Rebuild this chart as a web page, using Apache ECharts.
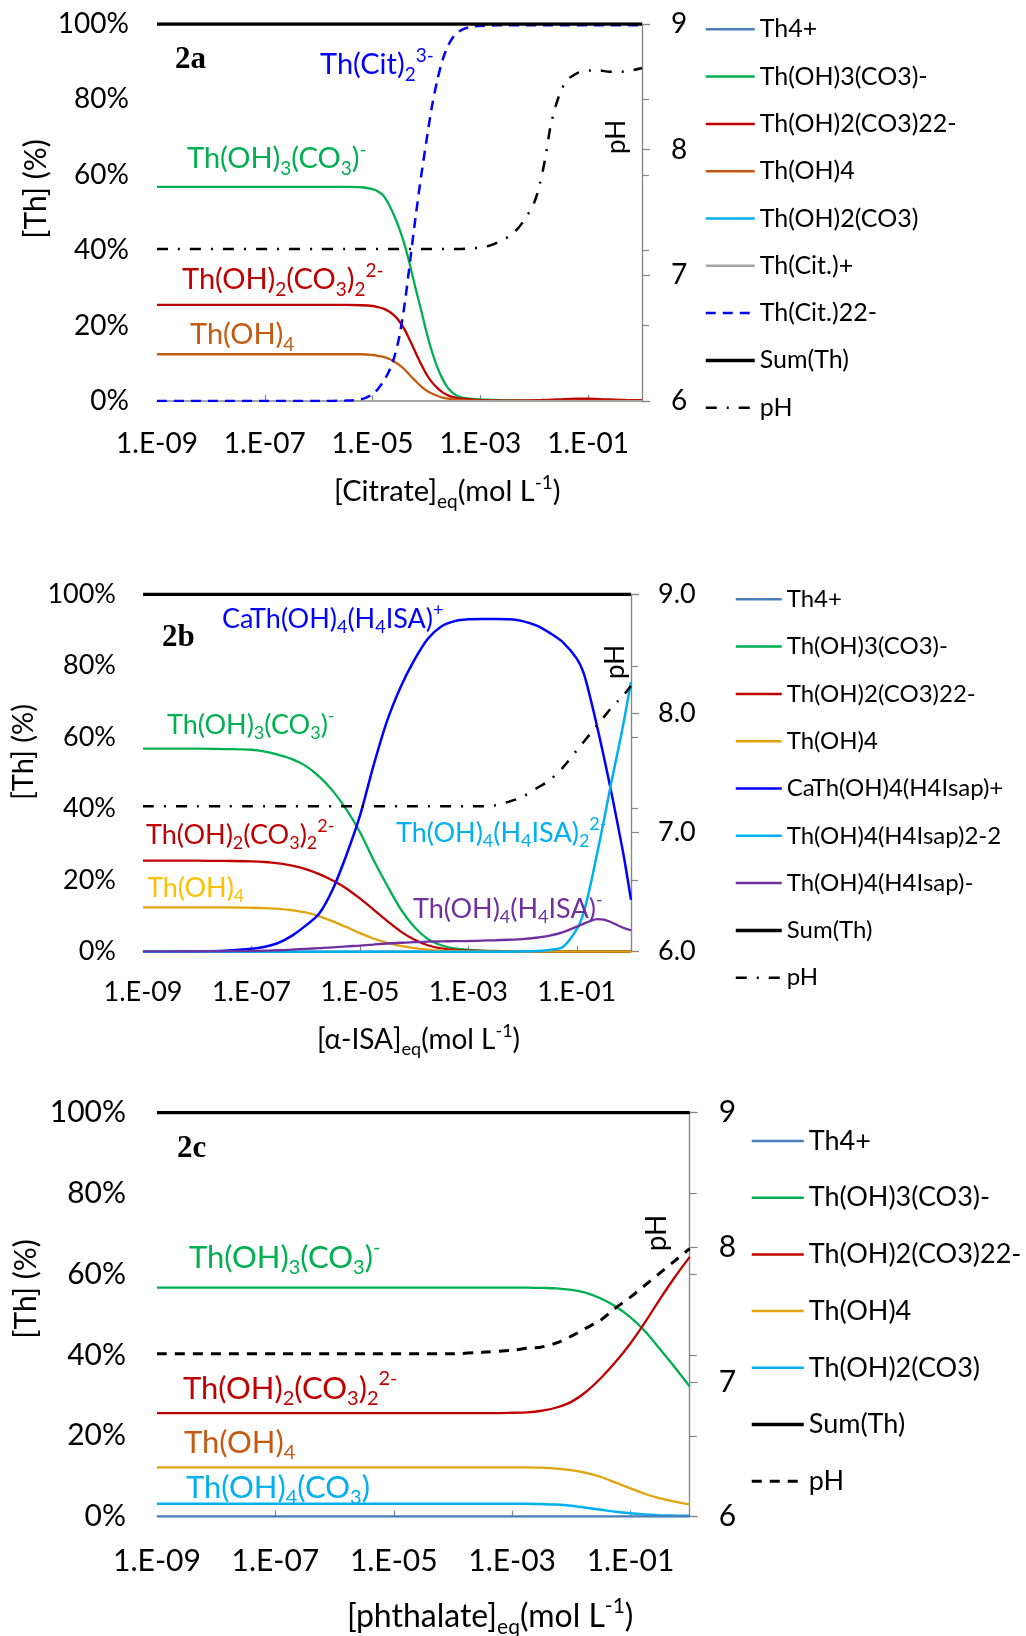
<!DOCTYPE html>
<html><head><meta charset="utf-8">
<script src="https://cdn.jsdelivr.net/npm/echarts@6/dist/echarts.min.js"></script>
<style>html,body{margin:0;padding:0;background:#fff}#c{width:1026px;height:1636px}</style>
</head><body><div id="c"></div>
<script>
// ================= DATA =================
// x values are log10 of the equilibrium ligand concentration (mol/L)
const xLabelTicks = [-9, -7, -5, -3, -1];        // 1.E-09 ... 1.E-01
const xTickMarks  = [-7, -5, -3, -1];
const xEnds = [-9, 0];

// ---- Panel 2a : citrate ----
const logC_a = [-9,-6,-5.5,-5.2,-5.0,-4.9,-4.8,-4.7,-4.6,-4.5,-4.4,-4.3,-4.2,-4.1,-4.0,-3.9,-3.8,-3.7,-3.6,-3.5,-3.4,-3.2,-3.0,-2.8,-2.6,-2.4,-2.2,-2.0,-1.9,-1.8,-1.7,-1.6,-1.5,-1.4,-1.2,-1.0,-0.8,-0.6,-0.4,-0.2,0];
const a_ThOH3CO3 = [56.8,56.8,56.8,56.7,56.2,55.6,54.5,52.2,49.2,45.6,41.2,35.7,29.8,24.2,18.3,13.2,9.0,5.8,3.4,2.0,1.2,0.6,0.4,0.3,0.2,0.2,0.1,0.1,0.1,0.1,0.1,0.1,0.1,0.1,0.1,0.1,0.1,0.1,0.1,0.1,0.1];
const a_ThOH2CO32 = [25.5,25.5,25.5,25.4,25.2,24.9,24.5,23.8,22.7,21.1,18.8,15.9,12.8,9.8,7.1,5.0,3.5,2.3,1.5,1.0,0.7,0.4,0.2,0.15,0.1,0.1,0.15,0.2,0.25,0.3,0.35,0.4,0.45,0.5,0.6,0.6,0.5,0.4,0.3,0.2,0.2];
const a_ThOH4 = [12.4,12.4,12.4,12.4,12.2,12.0,11.7,11.2,10.5,9.5,8.3,6.7,5.3,3.9,2.8,2.0,1.4,0.9,0.6,0.4,0.3,0.1,0.05,0,0,0,0,0,0,0,0,0,0,0,0,0,0,0,0,0,0];
const a_ThCit2 = [0,0,0.1,0.5,1.8,3.2,5.2,7.7,11.5,17.3,26.2,37.5,49.0,59.5,69.0,78.0,85.0,90.5,94.2,96.6,98.0,99.2,99.5,99.6,99.7,99.7,99.7,99.7,99.7,99.7,99.7,99.7,99.7,99.7,99.7,99.7,99.7,99.7,99.7,99.7,99.7];
const a_pH = [7.21,7.21,7.21,7.21,7.21,7.21,7.21,7.21,7.21,7.21,7.21,7.21,7.21,7.21,7.21,7.21,7.21,7.21,7.21,7.21,7.21,7.215,7.22,7.24,7.28,7.33,7.43,7.58,7.72,7.92,8.18,8.35,8.47,8.55,8.61,8.63,8.63,8.62,8.62,8.63,8.65];
const a_Th4 = [0, 0];
const a_ThOH2CO3 = [0, 0];
const a_ThCit = [0, 0];
const a_Sum = [100, 100];

// ---- Panel 2b : alpha-ISA ----
const logC_b = [-9,-8,-7.5,-7,-6.75,-6.5,-6.25,-6.0,-5.75,-5.5,-5.25,-5.0,-4.75,-4.5,-4.25,-4.0,-3.75,-3.5,-3.25,-3.0,-2.75,-2.5,-2.25,-2.0,-1.75,-1.5,-1.25,-1.0,-0.875,-0.75,-0.625,-0.5,-0.375,-0.25,-0.125,0];
const b_ThOH3CO3 = [56.8,56.8,56.7,56.5,56.0,55.1,53.9,52.0,49.0,45.0,39.8,33.5,25.7,18.6,12.0,7.0,3.6,1.8,0.9,0.5,0.3,0.2,0.1,0.05,0,0,0,0,0,0,0,0,0,0,0,0];
const b_ThOH2CO32 = [25.5,25.5,25.4,25.3,25.1,24.7,24.1,23.1,21.7,19.9,17.7,14.9,11.8,8.6,5.7,3.4,1.8,0.9,0.5,0.3,0.2,0.1,0.05,0,0,0,0,0,0,0,0,0,0,0,0,0];
const b_ThOH4 = [12.4,12.4,12.4,12.3,12.2,12.0,11.6,11.0,9.9,8.5,6.9,5.2,3.7,2.5,1.6,1.0,0.6,0.3,0.2,0.1,0.05,0,0,0,0,0,0,0,0,0,0,0,0,0,0,0];
const b_CaThISA = [0,0.1,0.3,0.8,1.4,2.5,4.5,7.3,10.7,17.5,27.0,38.0,52.0,64.5,74.0,81.5,87.5,91.0,92.5,93.0,93.1,93.1,93.0,92.5,91.3,89.2,86.5,82.0,78.0,71.0,63.0,54.5,45.5,36.0,26.0,14.5];
const b_ThISA2 = [0,0,0,0,0,0,0,0,0,0,0,0,0,0,0,0,0,0,0,0,0,0,0,0.1,0.2,0.5,1.4,6.3,10.8,18.5,27.5,36.7,46.5,55.5,65.0,75.5];
const b_ThISA = [0,0.05,0.1,0.2,0.3,0.4,0.6,0.8,1.0,1.2,1.5,1.7,2.0,2.3,2.5,2.7,2.8,2.9,2.95,3.0,3.1,3.2,3.35,3.5,3.9,4.5,5.5,7.0,7.8,8.6,9.1,9.0,8.3,7.4,6.6,6.0];
const b_pH = [7.22,7.22,7.22,7.22,7.22,7.22,7.22,7.22,7.22,7.22,7.22,7.22,7.22,7.22,7.22,7.22,7.22,7.22,7.22,7.22,7.22,7.23,7.26,7.30,7.37,7.44,7.55,7.69,7.76,7.83,7.90,7.97,8.04,8.10,8.16,8.23];
const b_Th4 = [0, 0];
const b_Sum = [100, 100];

// ---- Panel 2c : phthalate ----
const logC_c = [-9,-6,-4,-3.5,-3.0,-2.75,-2.5,-2.25,-2.0,-1.75,-1.5,-1.25,-1.0,-0.75,-0.5,-0.25,0];
const c_ThOH3CO3 = [56.7,56.7,56.7,56.7,56.7,56.7,56.6,56.5,56.1,55.4,54.0,52.0,49.3,45.8,41.4,36.9,32.2];
const c_ThOH2CO32 = [25.6,25.6,25.6,25.6,25.7,25.8,26.2,27.0,28.4,30.9,34.3,38.3,42.9,48.2,53.9,59.3,64.3];
const c_ThOH4 = [12.2,12.2,12.2,12.2,12.2,12.2,12.1,11.9,11.5,10.8,9.8,8.4,7.0,5.6,4.5,3.7,3.0];
const c_ThOH2CO3 = [3.2,3.2,3.2,3.2,3.2,3.15,3.1,3.0,2.7,2.2,1.7,1.2,0.8,0.5,0.35,0.25,0.2];
const c_pH = [7.21,7.21,7.21,7.22,7.235,7.25,7.26,7.29,7.34,7.40,7.46,7.55,7.63,7.72,7.81,7.90,7.99];
const c_Th4 = [0, 0];
const c_Sum = [100, 100];

// ================= STYLE / LAYOUT =================
const FONT = 'Lato';
const COL = {th4:'#4a7ebb', green:'#00b050', red:'#c00000', orange:'#c55a11', gold:'#e2a40c', goldTxt:'#ffc000',
  lblue:'#00b0f0', grey:'#a5a5a5', blue:'#0000ff', purple:'#7030a0', black:'#000000', axis:'#868686'};
const DASH_A = [11, 10, 2, 10];
const DASH_CIT = [10, 7];
const DASH_C = [10, 8];

const grids = [
  {left:157, top:24, width:485, height:377},
  {left:143, top:594.3, width:488, height:357.4},
  {left:157, top:1112.6, width:532.7, height:404}
];
const tickFont = [28, 27, 30];
const xMargin = [29, 27, 30];
const lMargin = [28, 27, 31];
const rMargin = [29, 27, 29];

const fmtExp = v => '1.E-' + String(Math.round(-v)).padStart(2, '0');

const xAxes = grids.map((g, i) => ({
  type:'value', gridIndex:i, min:-9, max:0,
  axisLine:{show:true, onZero:false, lineStyle:{color:COL.axis, width:1.2}},
  axisTick:{show:true, inside:true, length:6, customValues:xTickMarks, lineStyle:{color:COL.axis, width:1.2}},
  axisLabel:{customValues:xLabelTicks, formatter:fmtExp, fontFamily:FONT, fontSize:tickFont[i], color:'#000', margin:xMargin[i]},
  splitLine:{show:false}
}));
const yAxes = [];
grids.forEach((g, i) => {
  yAxes.push({type:'value', gridIndex:i, position:'left', min:0, max:100, interval:20,
    axisLine:{show:true, lineStyle:{color:COL.axis, width:1.2}},
    axisTick:{show:true, inside:true, length:7, lineStyle:{color:COL.axis, width:1.2}},
    axisLabel:{formatter:'{value}%', fontFamily:FONT, fontSize:tickFont[i], color:'#000', margin:lMargin[i]},
    splitLine:{show:false}});
  yAxes.push({type:'value', gridIndex:i, position:'right', min:6, max:9, interval:1,
    axisLine:{show:true, lineStyle:{color:COL.axis, width:1.2}},
    axisTick:{show:true, inside:false, length:8, lineStyle:{color:COL.axis, width:1.2}},
    axisLabel:{formatter: i === 1 ? (v => v.toFixed(1)) : (v => String(v)), fontFamily:FONT, fontSize:tickFont[i], color:'#000', margin:rMargin[i]},
    splitLine:{show:false}});
});

const series = [];
function add(gi, right, name, xs, ys, color, width, type) {
  series.push({type:'line', name, xAxisIndex:gi, yAxisIndex:gi*2 + (right ? 1 : 0),
    data: xs.map((x, k) => [x, ys[k]]), symbol:'none', smooth:0.3, silent:true, animation:false,
    lineStyle:{color, width, type:type || 'solid', cap:'butt'}, itemStyle:{color}});
}
// 2a
add(0,false,'Th4+', xEnds, a_Th4, COL.th4, 2.2);
add(0,false,'Th(OH)3(CO3)-', logC_a, a_ThOH3CO3, COL.green, 2.3);
add(0,false,'Th(OH)2(CO3)22-', logC_a, a_ThOH2CO32, COL.red, 2.3);
add(0,false,'Th(OH)4', logC_a, a_ThOH4, COL.orange, 2.3);
add(0,false,'Th(OH)2(CO3)', xEnds, a_ThOH2CO3, COL.lblue, 2.2);
add(0,false,'Th(Cit.)+', xEnds, a_ThCit, COL.grey, 2.2);
add(0,false,'Th(Cit.)22-', logC_a, a_ThCit2, COL.blue, 2.5, DASH_CIT);
add(0,false,'Sum(Th)', xEnds, a_Sum, COL.black, 3.4);
add(0,true,'pH', logC_a, a_pH, COL.black, 2.5, DASH_A);
// 2b
add(1,false,'Th4+', xEnds, b_Th4, COL.th4, 2.2);
add(1,false,'Th(OH)3(CO3)-', logC_b, b_ThOH3CO3, COL.green, 2.3);
add(1,false,'Th(OH)2(CO3)22-', logC_b, b_ThOH2CO32, COL.red, 2.3);
add(1,false,'Th(OH)4', logC_b, b_ThOH4, COL.gold, 2.3);
add(1,false,'CaTh(OH)4(H4Isap)+', logC_b, b_CaThISA, COL.blue, 2.5);
add(1,false,'Th(OH)4(H4Isap)2-2', logC_b, b_ThISA2, COL.lblue, 2.5);
add(1,false,'Th(OH)4(H4Isap)-', logC_b, b_ThISA, COL.purple, 2.3);
add(1,false,'Sum(Th)', xEnds, b_Sum, COL.black, 3.4);
add(1,true,'pH', logC_b, b_pH, COL.black, 2.5, DASH_A);
// 2c
add(2,false,'Th(OH)3(CO3)-', logC_c, c_ThOH3CO3, COL.green, 2.3);
add(2,false,'Th(OH)2(CO3)22-', logC_c, c_ThOH2CO32, COL.red, 2.3);
add(2,false,'Th(OH)4', logC_c, c_ThOH4, COL.gold, 2.3);
add(2,false,'Th(OH)2(CO3)', logC_c, c_ThOH2CO3, COL.lblue, 2.5);
add(2,false,'Th4+', xEnds, c_Th4, COL.th4, 2.5);
add(2,false,'Sum(Th)', xEnds, c_Sum, COL.black, 3.4);
add(2,true,'pH', logC_c, c_pH, COL.black, 3, DASH_C);

function legend(items, left, firstY, spacing, iw, fs) {
  const lh = 30;
  return {orient:'vertical', left, top:firstY - lh/2, padding:0, itemGap:spacing - lh, itemWidth:iw, itemHeight:14,
    selectedMode:false, textStyle:{fontFamily:FONT, fontSize:fs, color:'#000', lineHeight:lh},
    data: items.map(it => ({name:it[0], itemStyle:{color:it[1], opacity:0}, lineStyle:{color:it[1], width:it[2] || 2.5, type:it[3] || 'solid', cap:'butt'}}))};
}
const legends = [
  legend([['Th4+',COL.th4],['Th(OH)3(CO3)-',COL.green],['Th(OH)2(CO3)22-',COL.red],['Th(OH)4',COL.orange],['Th(OH)2(CO3)',COL.lblue],['Th(Cit.)+',COL.grey],['Th(Cit.)22-',COL.blue,2.5,DASH_CIT],['Sum(Th)',COL.black,3.5],['pH',COL.black,2.5,DASH_A]], 704, 29.3, 47.3, 49, 25),
  legend([['Th4+',COL.th4],['Th(OH)3(CO3)-',COL.green],['Th(OH)2(CO3)22-',COL.red],['Th(OH)4',COL.gold],['CaTh(OH)4(H4Isap)+',COL.blue],['Th(OH)4(H4Isap)2-2',COL.lblue],['Th(OH)4(H4Isap)-',COL.purple],['Sum(Th)',COL.black,3.5],['pH',COL.black,2.5,DASH_A]], 734, 599.3, 47.3, 46, 24),
  legend([['Th4+',COL.th4],['Th(OH)3(CO3)-',COL.green],['Th(OH)2(CO3)22-',COL.red],['Th(OH)4',COL.gold],['Th(OH)2(CO3)',COL.lblue],['Sum(Th)',COL.black,3.5],['pH',COL.black,3,DASH_C]], 750, 1141, 56.7, 52, 27)
];

// ---------- text annotations (rich text with sub/superscripts) ----------
function richText(x, y, parts, color, fs, opt) {
  opt = opt || {};
  const sfs = Math.round(fs * 0.65);
  const L = Math.round(fs * 1.3);
  const rich = {
    m:{fontSize:fs, fontFamily:FONT, fill:color, color:color, lineHeight:L},
    s:{fontSize:sfs, fontFamily:FONT, fill:color, color:color, lineHeight:sfs, verticalAlign:'bottom'},
    p:{fontSize:sfs, fontFamily:FONT, fill:color, color:color, lineHeight:sfs + 2, verticalAlign:'top'}
  };
  const text = parts.map(p => '{' + p[0] + '|' + p[1] + '}').join('');
  return {type:'text', x, y, rotation:opt.rot || 0, silent:true, z:50,
    style:{text, rich, fill:color, fontSize:fs, fontFamily:FONT, align:opt.align || 'left', verticalAlign:'middle'}};
}
function plainText(x, y, text, color, fs, opt) {
  opt = opt || {};
  return {type:'text', x, y, rotation:opt.rot || 0, silent:true, z:50,
    style:{text, fill:color, fontSize:fs, fontFamily:opt.family || FONT, fontWeight:opt.weight || 'normal', align:opt.align || 'left', verticalAlign:'middle'}};
}
const ROT = Math.PI / 2;
const T_OH3CO3 = [['m','Th(OH)'],['s','3'],['m','(CO'],['s','3'],['m',')'],['p','-']];
const T_OH2CO32 = [['m','Th(OH)'],['s','2'],['m','(CO'],['s','3'],['m',')'],['s','2'],['p','2-']];
const T_OH4 = [['m','Th(OH)'],['s','4']];
const xName = lig => [['m', lig],['s','eq'],['m','(mol L'],['p','-1'],['m',')']];
const SERIF = 'Liberation Serif';

const graphics = [
  // 2a
  plainText(36, 189, '[Th] (%)', '#000', 30, {rot:ROT, align:'center'}),
  richText(334, 492, xName('[Citrate]'), '#000', 29),
  plainText(175, 60, '2a', '#000', 31, {family:SERIF, weight:'bold'}),
  plainText(617, 137, 'pH', '#000', 26, {rot:ROT, align:'center'}),
  richText(320, 65, [['m','Th(Cit)'],['s','2'],['p','3-']], COL.blue, 29),
  richText(187, 159, T_OH3CO3, COL.green, 29),
  richText(182, 280, T_OH2CO32, COL.red, 29),
  richText(190, 335, T_OH4, COL.orange, 29),
  // 2b
  plainText(24, 752, '[Th] (%)', '#000', 29, {rot:ROT, align:'center'}),
  richText(317, 1040, xName('[α-ISA]'), '#000', 28),
  plainText(162, 638, '2b', '#000', 31, {family:SERIF, weight:'bold'}),
  plainText(616, 662, 'pH', '#000', 26, {rot:ROT, align:'center'}),
  richText(222, 619, [['m','CaTh(OH)'],['s','4'],['m','(H'],['s','4'],['m','ISA)'],['p','+']], COL.blue, 27),
  richText(167, 725, T_OH3CO3, COL.green, 27),
  richText(146, 835, T_OH2CO32, COL.red, 27),
  richText(147, 888, T_OH4, COL.goldTxt, 27),
  richText(396, 833, [['m','Th(OH)'],['s','4'],['m','(H'],['s','4'],['m','ISA)'],['s','2'],['p','2-']], COL.lblue, 27),
  richText(413, 909, [['m','Th(OH)'],['s','4'],['m','(H'],['s','4'],['m','ISA)'],['p','-']], COL.purple, 27),
  // 2c
  plainText(26, 1289, '[Th] (%)', '#000', 30, {rot:ROT, align:'center'}),
  richText(347, 1617, xName('[phthalate]'), '#000', 32),
  plainText(177, 1149, '2c', '#000', 31, {family:SERIF, weight:'bold'}),
  plainText(657, 1233, 'pH', '#000', 28, {rot:ROT, align:'center'}),
  richText(189, 1258, T_OH3CO3, COL.green, 31),
  richText(183, 1389, T_OH2CO32, COL.red, 31),
  richText(184, 1443, T_OH4, COL.orange, 31),
  richText(186, 1488, [['m','Th(OH)'],['s','4'],['m','(CO'],['s','3'],['m',')']], COL.lblue, 31)
];

const option = {
  animation:false,
  backgroundColor:'#ffffff',
  textStyle:{fontFamily:FONT},
  grid: grids.map(g => Object.assign({containLabel:false, outerBoundsMode:'none'}, g)),
  xAxis: xAxes,
  yAxis: yAxes,
  legend: legends,
  series,
  graphic:{elements:graphics}
};
const chart = echarts.init(document.getElementById('c'), null, {renderer:'canvas', width:1026, height:1636});
chart.setOption(option);
</script>
</body></html>
